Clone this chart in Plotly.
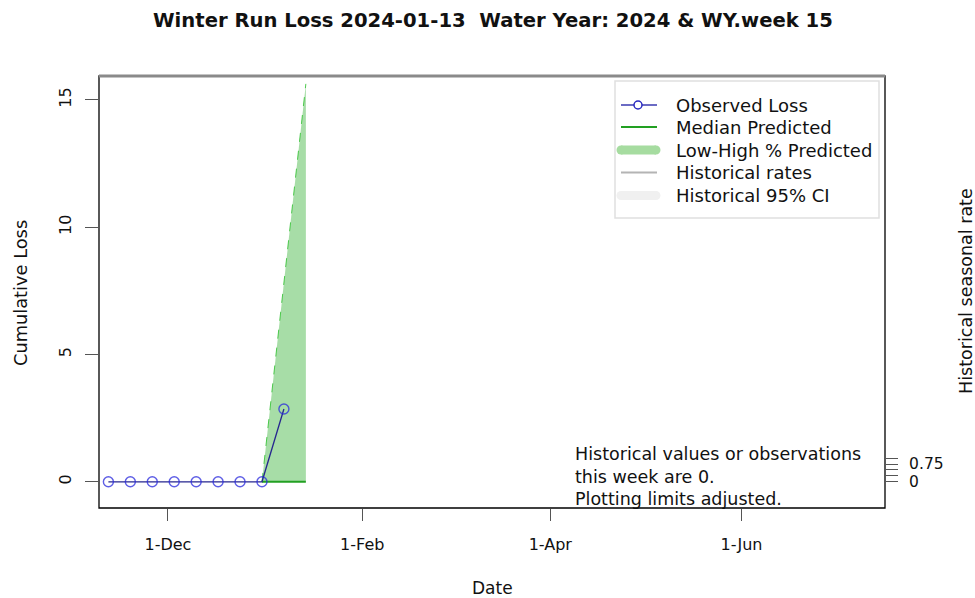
import plotly.graph_objects as go

# ---- data ----
obs_dates = ["2023-11-12", "2023-11-19", "2023-11-26", "2023-12-03", "2023-12-10",
             "2023-12-17", "2023-12-24", "2023-12-31", "2024-01-07"]
obs_loss = [0, 0, 0, 0, 0, 0, 0, 0, 2.86]

pred_dates = ["2023-12-31", "2024-01-14"]
pred_low = [0, 0]
pred_high = [0, 15.63]
pred_median = [0, 0]

hist_dates = []
hist_rates = []

x_tick_vals = ["2023-12-01", "2024-02-01", "2024-04-01", "2024-06-01"]
x_tick_text = ["1-Dec", "1-Feb", "1-Apr", "1-Jun"]
y_tick_vals = [0, 5, 10, 15]
y2_tick_vals = [0, 0.25, 0.5, 0.75, 1.0]
y2_tick_text = ["0", "", "", "0.75", ""]

legend_labels = ["Observed Loss", "Median Predicted", "Low-High % Predicted",
                 "Historical rates", "Historical 95% CI"]
note_lines = ["Historical values or observations", "this week are 0.", "Plotting limits adjusted."]
title_text = "Winter Run Loss 2024-01-13 \u00a0Water Year: 2024 & WY.week 15"

# ---- layout geometry (pixels) ----
W, H = 975, 598
L, R, T, B = 99, 885, 76, 508
FONT = "DejaVu Sans"


def px(xp):
    return (xp - L) / (R - L)


def py(yp):
    return (B - yp) / (B - T)


fig = go.Figure()

fig.add_trace(go.Scatter(x=pred_dates, y=pred_low, mode="lines",
                         line=dict(color="rgba(0,0,0,0)", width=0), showlegend=False, hoverinfo="skip"))
fig.add_trace(go.Scatter(x=pred_dates, y=pred_high, mode="lines", fill="tonexty",
                         fillcolor="rgba(34,170,34,0.40)",
                         line=dict(color="rgba(40,190,40,0.8)", width=1, dash="dash"),
                         showlegend=False))
fig.add_trace(go.Scatter(x=pred_dates, y=pred_median, mode="lines",
                         line=dict(color="#22a022", width=2), showlegend=False))
fig.add_trace(go.Scatter(x=obs_dates, y=obs_loss, mode="lines+markers",
                         line=dict(color="#26268f", width=1.3),
                         marker=dict(symbol="circle-open", size=10, color="rgba(40,40,220,0.75)",
                                     line=dict(width=1.4)),
                         showlegend=False))
fig.add_trace(go.Scatter(x=hist_dates, y=hist_rates, yaxis="y2", mode="lines",
                         line=dict(color="#b0b0b0"), showlegend=False))

shapes = []
# plot box
shapes.append(dict(type="rect", xref="paper", yref="paper", x0=0, x1=1, y0=0, y1=1,
                   line=dict(color="black", width=1.3)))
shapes.append(dict(type="line", xref="paper", yref="paper", x0=0, x1=1, y0=1, y1=1,
                   line=dict(color="#8a8a8a", width=3)))

# legend box
shapes.append(dict(type="rect", xref="paper", yref="paper", x0=px(615), x1=px(879),
                   y0=py(218), y1=py(81), line=dict(color="#e0e0e0", width=1.5),
                   fillcolor="white", layer="above"))
rows = [105, 127, 150, 172.5, 195.5]
shapes.append(dict(type="line", xref="paper", yref="paper", x0=px(621), x1=px(657),
                   y0=py(rows[0]), y1=py(rows[0]), line=dict(color="#3a3ab0", width=1.3)))
shapes.append(dict(type="circle", xref="paper", yref="paper", x0=px(634), x1=px(642),
                   y0=py(rows[0] + 4), y1=py(rows[0] - 4), line=dict(color="#2828c0", width=1.5),
                   fillcolor="white"))
shapes.append(dict(type="line", xref="paper", yref="paper", x0=px(621), x1=px(657),
                   y0=py(rows[1]), y1=py(rows[1]), line=dict(color="#22a022", width=2)))
shapes.append(dict(type="line", xref="paper", yref="paper", x0=px(621), x1=px(656),
                   y0=py(rows[2]), y1=py(rows[2]), line=dict(color="#a6dca0", width=9)))
shapes.append(dict(type="circle", xref="paper", yref="paper", x0=px(616.5), x1=px(625.5),
                   y0=py(rows[2] + 4.5), y1=py(rows[2] - 4.5), line=dict(width=0), fillcolor="#a6dca0"))
shapes.append(dict(type="circle", xref="paper", yref="paper", x0=px(651.5), x1=px(660.5),
                   y0=py(rows[2] + 4.5), y1=py(rows[2] - 4.5), line=dict(width=0), fillcolor="#a6dca0"))
shapes.append(dict(type="line", xref="paper", yref="paper", x0=px(621), x1=px(657),
                   y0=py(rows[3]), y1=py(rows[3]), line=dict(color="#b4b4b4", width=2)))
shapes.append(dict(type="line", xref="paper", yref="paper", x0=px(621), x1=px(656),
                   y0=py(rows[4]), y1=py(rows[4]), line=dict(color="#f0f0f0", width=9)))
shapes.append(dict(type="circle", xref="paper", yref="paper", x0=px(616.5), x1=px(625.5),
                   y0=py(rows[4] + 4.5), y1=py(rows[4] - 4.5), line=dict(width=0), fillcolor="#f0f0f0"))
shapes.append(dict(type="circle", xref="paper", yref="paper", x0=px(651.5), x1=px(660.5),
                   y0=py(rows[4] + 4.5), y1=py(rows[4] - 4.5), line=dict(width=0), fillcolor="#f0f0f0"))

annotations = []
for lab, yy in zip(legend_labels, rows):
    annotations.append(dict(text=lab, xref="paper", yref="paper", x=px(674), y=py(yy),
                            xanchor="left", yanchor="middle", showarrow=False,
                            font=dict(family=FONT, size=18, color="#111")))
for line, yy in zip(note_lines, [454, 477, 499]):
    annotations.append(dict(text=line, xref="paper", yref="paper", x=px(573), y=py(yy),
                            xanchor="left", yanchor="middle", showarrow=False,
                            font=dict(family=FONT, size=17.5, color="#111")))
annotations.append(dict(text="Cumulative Loss", xref="paper", yref="paper", x=px(20), y=py(293),
                        textangle=-90, showarrow=False, xanchor="center", yanchor="middle",
                        font=dict(family=FONT, size=17.8, color="#111")))
annotations.append(dict(text="Historical seasonal rate", xref="paper", yref="paper", x=px(966), y=py(291),
                        textangle=-90, showarrow=False, xanchor="center", yanchor="middle",
                        font=dict(family=FONT, size=17.5, color="#111")))
annotations.append(dict(text="Date", xref="paper", yref="paper", x=px(492), y=py(588),
                        showarrow=False, xanchor="center", yanchor="middle",
                        font=dict(family=FONT, size=17, color="#111")))
annotations.append(dict(text="<b>" + title_text + "</b>", xref="paper", yref="paper", x=px(493), y=py(20),
                        showarrow=False, xanchor="center", yanchor="middle",
                        font=dict(family=FONT, size=19.6, color="#111")))

tickfont = dict(family=FONT, size=16, color="#111")
y0r, y1r = -1.03, 15.94
u = (481.7 - 464.0) / 0.75  # px per unit on right axis
y2_lo = -(B - 481.7) / u
y2_hi = y2_lo + (B - T) / u

fig.update_layout(
    width=W, height=H, autosize=False,
    margin=dict(l=L, r=W - R, t=T, b=H - B, pad=0),
    paper_bgcolor="white", plot_bgcolor="white",
    showlegend=False,
    xaxis=dict(type="date", range=["2023-11-09 00:00", "2024-07-16 19:00"],
               tickvals=x_tick_vals, ticktext=x_tick_text, ticks="outside", ticklen=12,
               tickcolor="#555", tickwidth=1.3, showgrid=False, zeroline=False, showline=False,
               tickfont=tickfont, ticklabelstandoff=10),
    yaxis=dict(range=[y0r, y1r], tickvals=y_tick_vals, ticks="outside", ticklen=13,
               tickcolor="#555", tickwidth=1.3, showgrid=False, zeroline=False, showline=False,
               tickangle=-90, tickfont=tickfont, ticklabelstandoff=8),
    yaxis2=dict(overlaying="y", side="right", range=[y2_lo, y2_hi], tickvals=y2_tick_vals,
                ticktext=y2_tick_text, ticks="outside", ticklen=12, tickcolor="#555", tickwidth=1.3,
                showgrid=False, zeroline=False, showline=False,
                tickfont=dict(family=FONT, size=15.5, color="#111"),
                ticklabelstandoff=8),
    shapes=shapes, annotations=annotations,
)

fig.write_html("out.html", config={"displayModeBar": False},
               post_script="document.body.style.margin='0';document.body.style.overflow='hidden';")
